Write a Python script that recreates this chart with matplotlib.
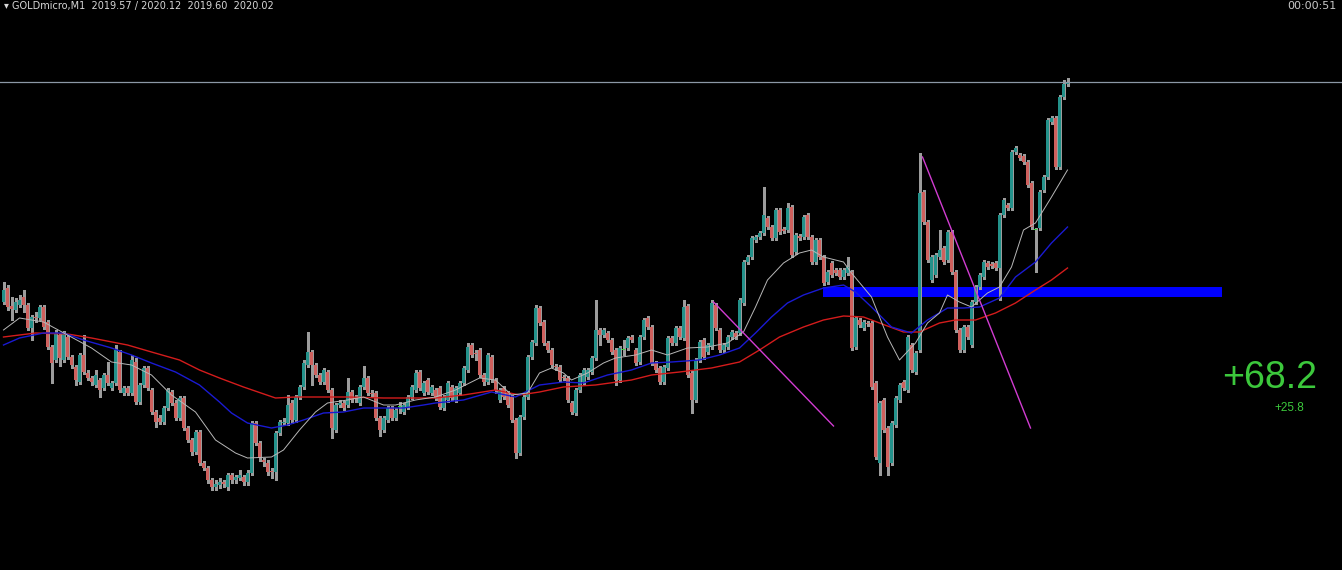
import matplotlib
matplotlib.use("Agg")
import matplotlib.pyplot as plt
import numpy as np

# GOLD M1 candles (price in points)
opens = [268, 282, 264, 260, 265, 273, 265, 242, 253, 252,
         263, 248, 223, 210, 235, 210, 233, 213, 203, 188,
         215, 197, 192, 185, 190, 182, 195, 182, 187, 218,
         177, 182, 177, 208, 168, 185, 202, 180, 158, 152,
         148, 162, 178, 167, 152, 172, 142, 130, 118, 138,
         107, 102, 90, 83, 85, 88, 83, 95, 90, 92,
         93, 88, 97, 147, 127, 110, 107, 99, 98, 137,
         147, 147, 167, 150, 173, 183, 205, 218, 205, 195,
         188, 198, 180, 140, 165, 167, 165, 178, 172, 167,
         183, 192, 177, 177, 152, 140, 150, 162, 152, 163,
         158, 163, 173, 180, 198, 177, 190, 177, 180, 182,
         162, 170, 183, 170, 177, 187, 200, 225, 217, 220,
         195, 188, 213, 190, 170, 182, 177, 173, 150, 117,
         153, 173, 213, 227, 262, 248, 227, 220, 204, 203,
         193, 192, 167, 157, 180, 188, 193, 198, 212, 240,
         235, 237, 230, 220, 190, 220, 222, 233, 220, 208,
         233, 252, 243, 207, 202, 188, 202, 232, 227, 242,
         232, 264, 197, 170, 210, 230, 218, 223, 265, 240,
         220, 223, 233, 237, 237, 267, 308, 313, 330, 333,
         337, 352, 343, 332, 360, 341, 340, 363, 318, 334,
         333, 355, 333, 308, 330, 313, 288, 307, 300, 300,
         293, 297, 298, 223, 250, 242, 247, 247, 187, 107,
         170, 142, 107, 145, 170, 188, 180, 225, 198, 220,
         378, 348, 290, 295, 313, 322, 310, 338, 298, 240,
         220, 243, 225, 268, 283, 293, 307, 306, 307, 302,
         355, 365, 362, 418, 415, 414, 408, 387, 340, 342,
         380, 393, 448, 452, 403, 473, 486]
highs = [288, 285, 273, 272, 275, 280, 267, 255, 258, 265,
         265, 250, 225, 240, 237, 239, 235, 215, 205, 217,
         235, 200, 194, 200, 192, 197, 208, 189, 225, 220,
         184, 184, 215, 212, 187, 204, 204, 182, 160, 155,
         164, 182, 180, 170, 174, 174, 144, 132, 140, 140,
         109, 104, 92, 90, 92, 90, 97, 97, 95, 100,
         95, 100, 149, 149, 129, 112, 110, 102, 139, 150,
         152, 175, 170, 175, 185, 210, 238, 220, 207, 197,
         202, 200, 182, 167, 170, 169, 192, 180, 175, 185,
         204, 194, 180, 179, 154, 154, 164, 164, 162, 168,
         167, 175, 185, 200, 200, 189, 192, 185, 182, 184,
         175, 189, 185, 184, 189, 204, 227, 227, 220, 222,
         197, 217, 215, 192, 182, 184, 179, 175, 152, 155,
         175, 215, 230, 265, 264, 250, 229, 222, 206, 205,
         195, 194, 169, 182, 197, 202, 202, 214, 270, 242,
         242, 239, 232, 222, 224, 230, 234, 235, 222, 235,
         252, 254, 245, 209, 204, 205, 234, 234, 244, 244,
         270, 266, 199, 212, 230, 232, 227, 270, 267, 242,
         227, 235, 240, 239, 272, 310, 315, 334, 335, 339,
         383, 354, 345, 362, 362, 343, 367, 365, 337, 336,
         355, 357, 335, 332, 332, 315, 300, 309, 302, 302,
         302, 313, 300, 254, 252, 250, 249, 249, 189, 169,
         172, 144, 149, 174, 187, 190, 235, 227, 219, 417,
         380, 350, 315, 317, 340, 324, 340, 340, 300, 242,
         245, 245, 270, 285, 297, 310, 309, 308, 309, 357,
         372, 367, 420, 424, 417, 416, 410, 389, 342, 380,
         395, 452, 454, 454, 475, 490, 492]
lows = [266, 260, 250, 258, 263, 258, 240, 230, 248, 250,
        241, 221, 187, 208, 204, 208, 211, 202, 185, 186,
        196, 190, 185, 183, 173, 180, 185, 180, 185, 178,
        175, 175, 175, 166, 166, 183, 180, 156, 143, 146,
        146, 160, 165, 150, 150, 140, 128, 115, 116, 105,
        100, 87, 80, 80, 82, 83, 80, 87, 87, 90,
        85, 85, 95, 125, 109, 104, 95, 92, 90, 135,
        145, 145, 147, 148, 171, 181, 203, 185, 193, 186,
        186, 178, 132, 138, 163, 160, 163, 168, 168, 165,
        181, 175, 174, 150, 134, 138, 148, 150, 150, 157,
        156, 161, 171, 178, 180, 175, 176, 175, 170, 161,
        160, 168, 170, 168, 175, 185, 198, 213, 210, 193,
        185, 186, 188, 177, 168, 171, 163, 148, 112, 115,
        151, 171, 211, 225, 245, 225, 218, 203, 200, 188,
        190, 168, 156, 155, 178, 186, 191, 196, 210, 225,
        233, 228, 216, 185, 188, 215, 220, 228, 205, 206,
        231, 241, 205, 198, 186, 186, 200, 225, 225, 231,
        230, 193, 157, 168, 208, 211, 216, 221, 240, 218,
        218, 221, 231, 231, 235, 265, 306, 311, 328, 331,
        335, 341, 330, 330, 336, 337, 338, 313, 316, 330,
        331, 331, 306, 306, 311, 285, 286, 293, 295, 291,
        291, 295, 220, 221, 243, 240, 244, 181, 111, 95,
        138, 95, 105, 143, 168, 180, 178, 198, 196, 218,
        346, 308, 288, 293, 311, 306, 308, 296, 238, 218,
        218, 231, 223, 266, 281, 291, 301, 302, 300, 270,
        353, 360, 360, 416, 410, 406, 383, 341, 298, 340,
        378, 391, 446, 401, 401, 471, 484]
closes = [280, 263, 261, 268, 270, 265, 242, 253, 252, 263,
          243, 223, 207, 237, 212, 237, 213, 205, 190, 215,
          198, 192, 188, 195, 180, 195, 187, 187, 220, 180,
          182, 177, 210, 168, 185, 202, 182, 158, 148, 148,
          162, 180, 167, 152, 172, 142, 130, 118, 138, 107,
          102, 90, 83, 86, 88, 86, 95, 90, 93, 95,
          88, 97, 147, 127, 112, 108, 98, 98, 137, 148,
          148, 165, 150, 173, 183, 207, 218, 205, 195, 188,
          200, 180, 142, 165, 167, 162, 178, 170, 171, 183,
          192, 177, 176, 152, 140, 152, 162, 152, 160, 163,
          165, 173, 183, 197, 182, 187, 178, 183, 172, 163,
          173, 187, 172, 182, 187, 202, 223, 215, 216, 195,
          188, 215, 190, 180, 180, 173, 165, 150, 117, 153,
          173, 213, 228, 262, 247, 227, 220, 205, 203, 190,
          192, 170, 158, 180, 195, 200, 200, 212, 240, 235,
          240, 230, 218, 190, 222, 220, 232, 230, 207, 233,
          250, 243, 207, 200, 188, 203, 232, 227, 242, 233,
          263, 195, 170, 210, 228, 213, 225, 267, 242, 220,
          225, 233, 238, 233, 270, 308, 313, 332, 333, 337,
          355, 343, 332, 360, 338, 339, 362, 315, 335, 332,
          353, 333, 308, 330, 313, 287, 298, 295, 297, 293,
          300, 303, 222, 252, 245, 248, 246, 183, 113, 167,
          140, 103, 147, 172, 185, 182, 233, 200, 217, 377,
          348, 310, 313, 315, 320, 308, 338, 298, 240, 220,
          243, 233, 268, 283, 295, 308, 303, 304, 302, 355,
          370, 362, 418, 422, 412, 408, 385, 343, 340, 378,
          393, 450, 452, 403, 473, 486, 488]

# moving averages, read at selected candles
fast_idx = [0, 4, 10, 16, 22, 27, 32, 37, 42, 48, 53, 58, 61, 67, 70, 74, 78, 81,
            86, 90, 95, 98, 103, 108, 113, 119, 123, 127, 131, 134, 137, 140, 142,
            146, 150, 153, 158, 162, 166, 171, 176, 181, 185, 188, 191, 195, 199,
            202, 205, 210, 212, 217, 221, 224, 228, 231, 234, 236, 239, 242, 246,
            249, 252, 255, 258, 262, 266]
fast_val = [240, 252, 248, 235, 222, 208, 205, 195, 175, 158, 130, 117, 112, 113,
            120, 140, 158, 167, 170, 173, 165, 165, 170, 173, 180, 192, 190, 175,
            177, 197, 202, 197, 190, 197, 207, 212, 215, 220, 215, 222, 223, 227,
            238, 263, 290, 307, 317, 320, 313, 308, 297, 273, 233, 210, 227, 247,
            257, 275, 268, 263, 277, 283, 303, 340, 347, 373, 400]
mid_idx = [0, 4, 10, 15, 20, 27, 32, 37, 43, 49, 54, 57, 61, 67, 71, 75, 80, 85,
           90, 95, 100, 105, 108, 115, 122, 128, 134, 140, 145, 151, 157, 162,
           167, 174, 179, 184, 188, 192, 196, 200, 205, 210, 213, 217, 222, 227,
           231, 236, 240, 244, 249, 253, 258, 262, 266]
mid_val = [225, 232, 237, 237, 230, 222, 215, 207, 198, 185, 168, 157, 147, 142,
           145, 150, 157, 158, 162, 162, 162, 165, 167, 170, 178, 173, 185, 188,
           187, 195, 200, 207, 208, 210, 215, 222, 237, 253, 267, 275, 282, 285,
           278, 263, 243, 237, 250, 262, 262, 263, 272, 293, 308, 327, 343]
slow_idx = [0, 8, 16, 22, 31, 37, 44, 49, 54, 60, 68, 73, 78, 86, 95, 103, 108,
            115, 123, 129, 134, 140, 148, 157, 162, 169, 177, 184, 189, 194, 200,
            205, 210, 215, 219, 225, 229, 234, 238, 243, 248, 253, 258, 262, 266]
slow_val = [233, 237, 236, 232, 225, 218, 210, 200, 192, 183, 172, 173, 173, 173,
            172, 172, 172, 175, 180, 175, 178, 183, 185, 190, 195, 198, 202, 208,
            220, 233, 243, 250, 254, 253, 247, 238, 238, 247, 250, 250, 257, 267,
            280, 290, 302]

# drawn objects
trend_a = ([177.5, 207.5], [268, 144])
trend_b = ([229.75, 256.75], [413, 142])
zone_x = (204.75, 304.5)
zone_y = (273, 283)
bid = 488
profit_main = "+68.2"
profit_sub = "+25.8"

fig = plt.figure(figsize=(13.42, 5.70), dpi=100, facecolor="black")
ax = fig.add_axes([0, 0, 1, 1], facecolor="black")

idx = np.arange(len(closes))
o = np.array(opens, float)
c = np.array(closes, float)
h = np.array(highs, float)
l = np.array(lows, float)

ax.add_patch(plt.Rectangle((zone_x[0], zone_y[0]), zone_x[1] - zone_x[0],
                           zone_y[1] - zone_y[0], color="#0000ff", zorder=1, lw=0))

ax.vlines(idx, l, h, colors="#9c9c9c", lw=1.0, zorder=2, antialiased=False)
colors = np.where(c > o, "#23918a", np.where(c < o, "#cf605d", "#32dc32"))
bottom = np.minimum(o, c)
height = np.maximum(np.abs(c - o), 1.5)
ax.bar(idx, height, bottom=bottom, width=0.75, color=colors, lw=0, zorder=3,
       antialiased=False)

ax.plot(slow_idx, slow_val, color="#d41c1c", lw=1.0, zorder=4)
ax.plot(mid_idx, mid_val, color="#1a1ad2", lw=1.0, zorder=4)
ax.plot(fast_idx, fast_val, color="#b8b8b8", lw=0.7, zorder=5)

ax.plot(*trend_a, color="#d23cd2", lw=1.0, zorder=6)
ax.plot(*trend_b, color="#d23cd2", lw=1.0, zorder=6)
ax.axhline(bid, color="#8c98a6", lw=0.9, zorder=6)

ax.set_xlim(-0.875, 334.625)
ax.set_ylim(0, 570)
ax.axis("off")

ax.text(0.9463, 0.337, profit_main, transform=ax.transAxes, ha="center", va="center",
        color="#3cc83c", fontsize=27, family="Liberation Sans")
ax.text(0.961, 0.284, profit_sub, transform=ax.transAxes, ha="center", va="center",
        color="#3cc83c", fontsize=8.5, family="Liberation Sans")
ax.text(0.003, 0.998, "\u25be GOLDmicro,M1  2019.57 / 2020.12  2019.60  2020.02",
        transform=ax.transAxes, ha="left", va="top", color="#d8d8d8", fontsize=7)
ax.text(0.996, 0.998, "00:00:51", transform=ax.transAxes, ha="right", va="top",
        color="#c8c8c8", fontsize=8)

fig.savefig("out.png", dpi=100, facecolor="black")
